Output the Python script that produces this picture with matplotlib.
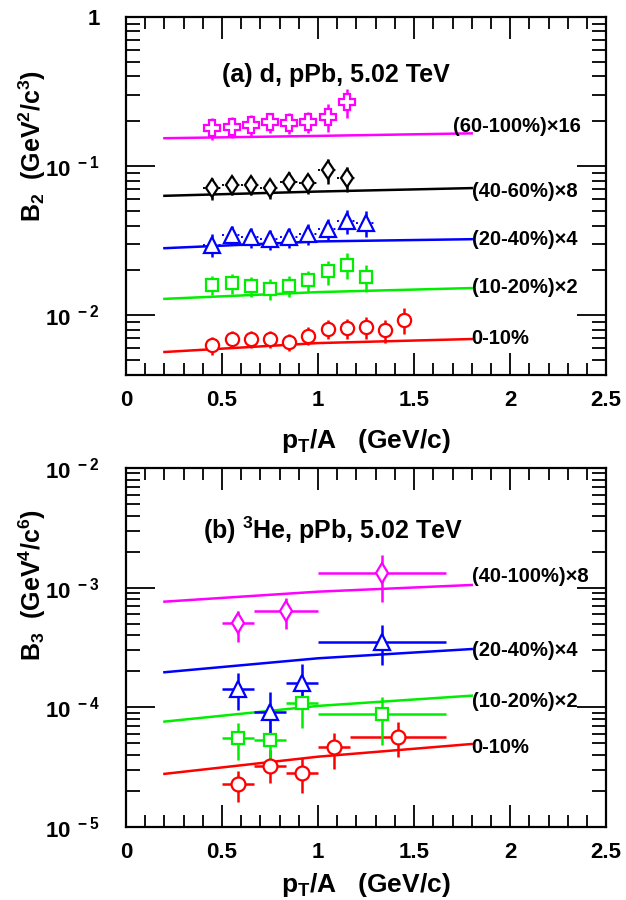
import matplotlib
matplotlib.use("Agg")
import matplotlib.pyplot as plt
from matplotlib.ticker import LogLocator, NullFormatter, MultipleLocator, FixedLocator, FixedFormatter

plt.rcParams['font.family'] = ['Liberation Sans', 'DejaVu Sans']
plt.rcParams['font.weight'] = 'bold'
plt.rcParams['mathtext.fontset'] = 'custom'
plt.rcParams['mathtext.rm'] = 'Liberation Sans:bold'
plt.rcParams['mathtext.it'] = 'Liberation Sans:bold'
plt.rcParams['mathtext.bf'] = 'Liberation Sans:bold'
plt.rcParams['mathtext.sf'] = 'Liberation Sans:bold'

# ----------------------------------------------------------
# (a) deuteron B2 vs pT/A
# ----------------------------------------------------------
d_pt = [0.45, 0.55, 0.65, 0.75, 0.85, 0.95, 1.05, 1.15, 1.25, 1.35, 1.45]

d_b2_0010 = [0.00629, 0.00694, 0.00694, 0.00694, 0.00663, 0.00730, 0.00809, 0.00822, 0.00830, 0.00792, 0.00935]
d_err_0010 = [0.0009, 0.0009, 0.0009, 0.0009, 0.0009, 0.0010, 0.0012, 0.0013, 0.0014, 0.0014, 0.0019]
d_b2_1020 = [0.01603, 0.01644, 0.01563, 0.0150, 0.01578, 0.01713, 0.01968, 0.02183, 0.01806]
d_err_1020 = [0.0024, 0.0025, 0.0024, 0.0024, 0.0025, 0.0027, 0.0036, 0.0043, 0.0038]
d_b2_2040 = [0.0297, 0.0347, 0.03345, 0.0324, 0.0334, 0.0352, 0.0379, 0.0432, 0.0419]
d_err_2040 = [0.0052, 0.0050, 0.0050, 0.0050, 0.0052, 0.0055, 0.0065, 0.0080, 0.0085]
d_b2_4060 = [0.0713, 0.0750, 0.0750, 0.0713, 0.0788, 0.0769, 0.0945, 0.0831]
d_err_4060 = [0.012, 0.011, 0.011, 0.011, 0.012, 0.012, 0.018, 0.016]
d_b2_60100 = [0.1797, 0.1842, 0.189, 0.197, 0.196, 0.199, 0.215, 0.271]
d_err_60100 = [0.030, 0.030, 0.030, 0.031, 0.031, 0.032, 0.045, 0.060]

model_x = [0.2, 1.0, 1.8]
d_mod_0010 = [0.00568, 0.00652, 0.00694]
d_mod_1020 = [0.0129, 0.01432, 0.01524]
d_mod_2040 = [0.0282, 0.0313, 0.0324]
d_mod_4060 = [0.0633, 0.0676, 0.0713]
d_mod_60100 = [0.154, 0.1596, 0.166]

d_labels = ["0-10%", "(10-20%)×2", "(20-40%)×4", "(40-60%)×8", "(60-100%)×16"]
d_label_x = [1.80, 1.80, 1.80, 1.80, 1.70]
d_label_y = [0.00697, 0.0153, 0.0321, 0.0673, 0.1833]

# ----------------------------------------------------------
# (b) 3He B3 vs pT/A  (central value, lower edge, upper edge)
# ----------------------------------------------------------
he_pt_red = [0.5833, 0.75, 0.9167, 1.0833, 1.4167]
he_xe_red = [0.0833, 0.0833, 0.0833, 0.0833, 0.25]
he_pt_mid = [0.5833, 0.75, 0.9167, 1.3333]
he_xe_mid = [0.0833, 0.0833, 0.0833, 0.3333]
he_pt_per = [0.5833, 0.8333, 1.3333]
he_xe_per = [0.0833, 0.1667, 0.3333]

he_b3_0010 = [2.29e-5, 3.24e-5, 2.85e-5, 4.64e-5, 5.63e-5]
he_lo_0010 = [1.63e-5, 2.35e-5, 1.92e-5, 3.04e-5, 3.83e-5]
he_hi_0010 = [2.96e-5, 4.41e-5, 3.76e-5, 6.14e-5, 7.51e-5]
he_b3_1020 = [5.52e-5, 5.34e-5, 1.095e-4, 8.81e-5]
he_lo_1020 = [3.64e-5, 3.52e-5, 6.69e-5, 4.85e-5]
he_hi_1020 = [7.45e-5, 8.98e-5, 1.598e-4, 1.228e-4]
he_b3_2040 = [1.416e-4, 9.20e-5, 1.608e-4, 3.54e-4]
he_lo_2040 = [9.51e-5, 5.55e-5, 1.117e-4, 2.26e-4]
he_hi_2040 = [1.94e-4, 1.352e-4, 2.305e-4, 4.88e-4]
he_b3_40100 = [5.04e-4, 6.43e-4, 1.334e-3]
he_lo_40100 = [3.54e-4, 4.49e-4, 7.64e-4]
he_hi_40100 = [6.43e-4, 8.15e-4, 1.876e-3]

he_mod_0010 = [2.78e-5, 3.87e-5, 4.94e-5]
he_mod_1020 = [7.6e-5, 1.028e-4, 1.252e-4]
he_mod_2040 = [1.964e-4, 2.57e-4, 3.07e-4]
he_mod_40100 = [7.64e-4, 9.26e-4, 1.053e-3]

he_labels = ["0-10%", "(10-20%)×2", "(20-40%)×4", "(40-100%)×8"]
he_label_x = [1.80, 1.80, 1.80, 1.80]
he_label_y = [4.58e-5, 1.117e-4, 2.96e-4, 1.236e-3]

RED, GREEN, BLUE, BLACK, MAG = "#ff0000", "#00ee00", "#0000ff", "#000000", "#ff00ff"


def root_frame(ax, ylo, yhi, decades):
    ax.set_xlim(0, 2.5)
    ax.set_yscale("log")
    ax.set_ylim(ylo, yhi)
    ax.xaxis.set_major_locator(MultipleLocator(0.5))
    ax.xaxis.set_minor_locator(MultipleLocator(0.1))
    ax.set_xticks([0, 0.5, 1, 1.5, 2, 2.5])
    ax.set_xticklabels(["0", "0.5", "1", "1.5", "2", "2.5"])
    ax.yaxis.set_major_locator(FixedLocator([10.0 ** d for d in decades]))
    ax.yaxis.set_major_formatter(FixedFormatter(
        ["1" if d == 0 else r"$10^{\ %d}$" % d for d in decades]))
    ax.yaxis.set_minor_locator(LogLocator(base=10, subs=range(2, 10), numticks=20))
    ax.yaxis.set_minor_formatter(NullFormatter())
    ax.tick_params(axis="x", which="major", direction="in", length=16, width=1.3,
                   top=True, bottom=True, labelsize=16, pad=11)
    ax.tick_params(axis="x", which="minor", direction="in", length=8.5, width=1.3,
                   top=True, bottom=True)
    ax.tick_params(axis="y", which="major", direction="in", length=21, width=1.3,
                   left=True, right=True, labelsize=16, pad=19)
    ax.tick_params(axis="y", which="minor", direction="in", length=10, width=1.3,
                   left=True, right=True)
    for s in ax.spines.values():
        s.set_linewidth(1.6)


def points(ax, x, y, yerr, color, marker, ms, xerr=None, dotted=False):
    ax.errorbar(x, y, yerr=yerr, xerr=xerr, fmt=marker, ms=ms, mfc="white", mec=color,
                mew=1.6, ecolor=color, elinewidth=1.8, capsize=0, zorder=3)
    if dotted:
        ax.hlines(y, [v - 0.05 for v in x], [v + 0.05 for v in x], colors=color,
                  linestyles=":", linewidth=1.4, zorder=2)


fig = plt.figure(figsize=(6.26, 9.0), dpi=100)

# ---------------- panel (a) ----------------
ax1 = fig.add_axes([0.2013, 0.5833, 0.767, 0.3978])
root_frame(ax1, 10 ** -2.4, 1.0, [-2, -1, 0])
for ymod, c in [(d_mod_0010, RED), (d_mod_1020, GREEN), (d_mod_2040, BLUE),
                (d_mod_4060, BLACK), (d_mod_60100, MAG)]:
    ax1.plot(model_x, ymod, color=c, lw=1.8, zorder=1)
points(ax1, d_pt[:11], d_b2_0010, d_err_0010, RED, "o", 9.5)
points(ax1, d_pt[:9], d_b2_1020, d_err_1020, GREEN, "s", 8.5)
points(ax1, d_pt[:9], d_b2_2040, d_err_2040, BLUE, "^", 11, dotted=True)
points(ax1, d_pt[:8], d_b2_4060, d_err_4060, BLACK, "d", 9.5, dotted=True)
points(ax1, d_pt[:8], d_b2_60100, d_err_60100, MAG, "P", 11.5)
for t, lx, ly in zip(d_labels, d_label_x, d_label_y):
    ax1.text(lx, ly, t, fontsize=14.5, fontweight="bold", va="center", ha="left")
ax1.text(0.5, 0.409, "(a) d, pPb, 5.02 TeV", fontsize=18, fontweight="bold",
         va="center", ha="left")
ax1.set_xlabel(r"$p_{T}/A$   (GeV/c)", fontsize=19, fontweight="bold")
ax1.xaxis.set_label_coords(0.5, -0.145)
ax1.set_ylabel(r"$B_{2}$  (GeV$^{2}$/c$^{3}$)", fontsize=18, fontweight="bold")
ax1.yaxis.label.set_va("center")
ax1.yaxis.set_label_coords(-0.196, 0.640)

# ---------------- panel (b) ----------------
ax2 = fig.add_axes([0.2013, 0.0811, 0.767, 0.3989])
root_frame(ax2, 1e-5, 1e-2, [-5, -4, -3, -2])
for ymod, c in [(he_mod_0010, RED), (he_mod_1020, GREEN), (he_mod_2040, BLUE),
                (he_mod_40100, MAG)]:
    ax2.plot(model_x, ymod, color=c, lw=1.8, zorder=1)


def asym(y, lo, hi):
    return [[a - b for a, b in zip(y, lo)], [b - a for a, b in zip(y, hi)]]


points(ax2, he_pt_red, he_b3_0010, asym(he_b3_0010, he_lo_0010, he_hi_0010), RED, "o", 10, xerr=he_xe_red)
points(ax2, he_pt_mid, he_b3_1020, asym(he_b3_1020, he_lo_1020, he_hi_1020), GREEN, "s", 8, xerr=he_xe_mid)
points(ax2, he_pt_mid, he_b3_2040, asym(he_b3_2040, he_lo_2040, he_hi_2040), BLUE, "^", 12, xerr=he_xe_mid)
points(ax2, he_pt_per, he_b3_40100, asym(he_b3_40100, he_lo_40100, he_hi_40100), MAG, "d", 10, xerr=he_xe_per)
for t, lx, ly in zip(he_labels, he_label_x, he_label_y):
    ax2.text(lx, ly, t, fontsize=14.5, fontweight="bold", va="center", ha="left")
ax2.text(0.40, 3.03e-3, r"(b) $^{3}$He, pPb, 5.02 TeV", fontsize=18, fontweight="bold",
         va="center", ha="left")
ax2.set_xlabel(r"$p_{T}/A$   (GeV/c)", fontsize=19, fontweight="bold")
ax2.xaxis.set_label_coords(0.5, -0.122)
ax2.set_ylabel(r"$B_{3}$  (GeV$^{4}$/c$^{6}$)", fontsize=18, fontweight="bold")
ax2.yaxis.label.set_va("center")
ax2.yaxis.set_label_coords(-0.196, 0.674)

fig.savefig("out.png", dpi=100)
